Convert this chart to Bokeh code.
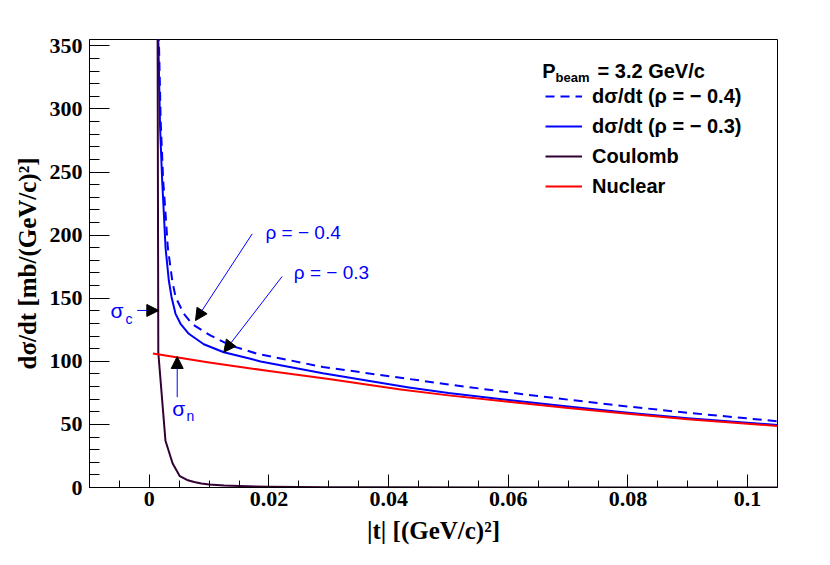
from bokeh.plotting import figure
from bokeh.models import (Range1d, FixedTicker, Legend, LegendItem, Label, Arrow,
                          NormalHead)
from bokeh.embed import file_html
from bokeh.resources import INLINE

# ---------------- data ----------------
t_rho04 = [0.0013, 0.0016, 0.0019, 0.00232, 0.00271, 0.00309, 0.00383, 0.00438,
           0.00577, 0.00717, 0.0102, 0.0136, 0.018, 0.0212, 0.029, 0.0434, 0.05,
           0.06, 0.07, 0.08, 0.09, 0.105]
s_rho04 = [480, 355, 290, 243, 217, 190, 164, 151,
           137.6, 129.5, 120.5, 112.5, 106, 103, 95.5, 86, 81.7,
           75.4, 69.6, 64.2, 59.2, 52.5]

t_rho03 = [0.0013, 0.0015, 0.0018, 0.00215, 0.00243, 0.00271, 0.00326, 0.00371,
           0.00438, 0.00522, 0.0066, 0.0091, 0.01245, 0.0169, 0.0186, 0.029, 0.0434,
           0.05, 0.06, 0.07, 0.08, 0.09, 0.105]
s_rho03 = [480, 355, 285, 243, 217, 190, 164, 151,
           137.6, 129.7, 121.8, 113.5, 107.2, 102, 99.8, 90.5, 79.3,
           74.8, 69.3, 64.1, 59.3, 54.8, 49.6]

t_coul = [0.0003, 0.0015, 0.0027, 0.0039, 0.0051, 0.0063, 0.0075, 0.0087, 0.0100,
          0.0125, 0.015, 0.02, 0.03, 0.04, 0.06, 0.08, 0.105]
s_coul = [2700, 107, 37, 19, 9, 6, 4.3, 3.2, 2.4,
          1.5, 1.1, 0.6, 0.27, 0.15, 0.07, 0.04, 0.02]

t_nucl = [0.0006, 0.01, 0.02, 0.03, 0.042, 0.05, 0.06, 0.07, 0.08, 0.09, 0.105]
s_nucl = [106.2, 99.1, 92.3, 85.9, 77.7, 73.0, 67.9, 63.0, 58.4, 54.1, 48.8]

x_ticks = [0.0, 0.02, 0.04, 0.06, 0.08, 0.1]
x_tick_labels = ["0", "0.02", "0.04", "0.06", "0.08", "0.1"]
x_minor = [-0.005, 0.005, 0.01, 0.015, 0.025, 0.03, 0.035, 0.045, 0.05, 0.055,
           0.065, 0.07, 0.075, 0.085, 0.09, 0.095]
y_ticks = [0, 50, 100, 150, 200, 250, 300, 350]
y_minor = [v for v in range(0, 360, 10) if v % 50 != 0]

legend_labels = ["dσ/dt (ρ = − 0.4)", "dσ/dt (ρ = − 0.3)", "Coulomb", "Nuclear"]

BLUE = "#0000ff"
RED = "#ff0000"
COUL = "#330033"

# ---------------- figure ----------------
p = figure(width=820, height=555, output_backend="svg", toolbar_location=None,
           x_range=Range1d(-0.01, 0.105), y_range=Range1d(0, 355),
           min_border_left=89, min_border_right=43, min_border_top=39,
           min_border_bottom=68)
p.background_fill_color = "white"
p.border_fill_color = "white"
p.outline_line_color = "black"
p.outline_line_width = 1
p.xgrid.visible = False
p.ygrid.visible = False

r04 = p.line(t_rho04, s_rho04, line_color=BLUE, line_width=2, line_dash="9 6",
             line_join="round")
r03 = p.line(t_rho03, s_rho03, line_color=BLUE, line_width=2, line_join="round")
rc = p.line(t_coul, s_coul, line_color=COUL, line_width=2, line_join="round")
rn = p.line(t_nucl, s_nucl, line_color=RED, line_width=2, line_join="round")

# axes
xa = p.xaxis[0]
xa.ticker = FixedTicker(ticks=x_ticks, minor_ticks=x_minor)
xa.major_label_overrides = {t: l for t, l in zip(x_ticks, x_tick_labels)}
xa.major_tick_in = 13
xa.major_tick_out = 0
xa.minor_tick_in = 7
xa.minor_tick_out = 0
xa.major_label_standoff = 4
xa.axis_label = "|t| [(GeV/c)²]"
xa.axis_label_standoff = 8

ya = p.yaxis[0]
ya.ticker = FixedTicker(ticks=y_ticks, minor_ticks=y_minor)
ya.major_tick_in = 20
ya.major_tick_out = 0
ya.minor_tick_in = 10
ya.minor_tick_out = 0
ya.major_label_standoff = 7
ya.axis_label = "dσ/dt [mb/(GeV/c)²]"
ya.axis_label_standoff = 6

for ax in (xa, ya):
    ax.axis_line_color = "black"
    ax.major_tick_line_color = "black"
    ax.minor_tick_line_color = "black"
    ax.major_label_text_font = "Liberation Serif"
    ax.major_label_text_font_style = "bold"
    ax.major_label_text_font_size = "22px"
    ax.major_label_text_color = "black"
    ax.axis_label_text_font = "Liberation Serif"
    ax.axis_label_text_font_style = "bold"
    ax.axis_label_text_font_size = "25px"
    ax.axis_label_text_color = "black"

# legend
legend = Legend(items=[LegendItem(label=legend_labels[0], renderers=[r04]),
                       LegendItem(label=legend_labels[1], renderers=[r03]),
                       LegendItem(label=legend_labels[2], renderers=[rc]),
                       LegendItem(label=legend_labels[3], renderers=[rn])],
                location=(456, 289), orientation="vertical",
                border_line_alpha=0, background_fill_alpha=0,
                padding=0, margin=0, spacing=6,
                glyph_width=37, glyph_height=24, label_height=24,
                label_standoff=10,
                label_text_font="Liberation Sans", label_text_font_style="bold",
                label_text_font_size="20px", label_text_color="black")
p.add_layout(legend)

# legend header  P_beam = 3.2 GeV/c
def header(x, y, txt, size):
    p.add_layout(Label(x=x, y=y, text=txt, text_font="Liberation Sans",
                       text_font_style="bold", text_font_size=size,
                       text_color="black",
                       text_baseline="alphabetic", text_align="left"))

header(0.06568, 330.4, "P", "20px")
header(0.0679, 324.9, "beam", "13px")
header(0.07492, 330.4, "= 3.2 GeV/c", "20px")

# annotations
def blue_label(x, y, txt, size):
    p.add_layout(Label(x=x, y=y, text=txt, text_font="Liberation Sans",
                       text_font_size=size, text_color=BLUE,
                       text_baseline="alphabetic", text_align="left"))

blue_label(0.01942, 202.3, "ρ = − 0.4", "19px")
blue_label(0.02415, 170.6, "ρ = − 0.3", "19px")
blue_label(-0.00649, 140.3, "σ", "21px")
blue_label(-0.00398, 133.7, "c", "14px")
blue_label(0.00383, 62.6, "σ", "21px")
blue_label(0.00622, 57.0, "n", "14px")

def arrow(x0, y0, x1, y1):
    p.add_layout(Arrow(x_start=x0, y_start=y0, x_end=x1, y_end=y1,
                       line_color=BLUE, line_width=1,
                       end=NormalHead(size=12, fill_color="black",
                                      line_color="black", line_width=1)))

arrow(0.0172, 201.0, 0.00772, 132.3)
arrow(0.0222, 167.2, 0.01245, 107.2)
arrow(-0.00202, 140.3, 0.00159, 140.3)
arrow(0.00466, 71.6, 0.00466, 103.8)

open("out.html", "w").write(file_html(p, INLINE))
